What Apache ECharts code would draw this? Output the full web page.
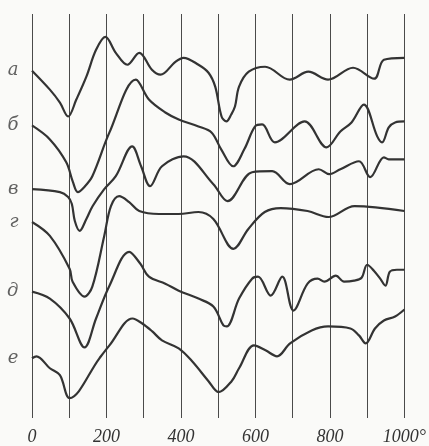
<!DOCTYPE html>
<html><head><meta charset="utf-8">
<script src="https://cdn.jsdelivr.net/npm/echarts@6/dist/echarts.min.js"></script>
<style>html,body{margin:0;padding:0;background:#fafaf8;}#c{width:429px;height:446px;}</style>
</head><body><div id="c"></div>
<script>
// Temperature (°C) and curve deflection (arbitrary units, up = higher)
const curveNames = ['а', 'б', 'в', 'г', 'д', 'е'];
const xTickLabels = ['0', '200', '400', '600', '800', '1000°'];

const curveA = [[0,349],[48,330],[75,317],[97,303],[119,320],[146,343],[172,370],[197,383],[225,367],[256,355],[288,367],[322,350],[345,345],[385,358],[407,362],[447,355],[474,347],[492,333],[509,303],[522,298],[535,305],[545,313],[556,333],[582,348],[626,353],[692,340],[742,348],[795,340],[862,352],[919,341],[945,360],[1000,362]];
const curveB = [[0,294],[48,280],[92,257],[110,237],[123,227],[140,232],[162,243],[208,287],[279,340],[314,320],[358,307],[394,300],[447,293],[482,287],[508,270],[540,253],[570,270],[599,293],[618,295],[652,277],[732,298],[791,272],[828,288],[858,297],[891,315],[927,283],[940,277],[958,292],[975,297],[1000,298]];
const curveV = [[0,230],[75,227],[97,222],[107,215],[115,198],[128,188],[146,200],[163,213],[194,230],[225,243],[269,273],[293,253],[317,233],[349,253],[407,263],[487,235],[525,218],[591,247],[645,248],[692,235],[770,250],[798,245],[828,250],[878,258],[908,242],[945,262],[958,260],[1000,260]];
const curveG = [[0,197],[48,183],[101,150],[109,137],[141,122],[162,132],[194,183],[212,213],[234,223],[261,217],[288,208],[341,205],[394,205],[447,207],[487,200],[541,170],[581,190],[625,207],[668,211],[740,208],[796,202],[866,213],[1000,208]];
const curveD = [[0,127],[48,120],[101,100],[141,71],[172,100],[208,133],[261,167],[291,155],[314,142],[358,135],[394,128],[447,120],[487,112],[514,93],[523,92],[556,120],[591,140],[607,142],[641,123],[672,142],[702,108],[740,135],[767,140],[785,137],[816,143],[838,137],[865,138],[885,141],[900,154],[918,148],[935,140],[949,133],[961,147],[980,149],[1000,149]];
const curveE = [[0,60],[12,62],[48,50],[75,43],[101,20],[181,60],[208,73],[270,100],[296,95],[323,87],[349,78],[394,70],[430,57],[474,37],[501,26],[536,37],[556,50],[596,73],[627,68],[658,62],[693,75],[751,88],[795,92],[855,90],[878,83],[896,75],[921,90],[945,98],[975,102],[1000,109]];

const curves = [curveA, curveB, curveV, curveG, curveD, curveE];
const ink = '#333333';

const series = curves.map((d, i) => ({
  type: 'line', name: curveNames[i], data: d, smooth: 0.35, symbol: 'none',
  lineStyle: { color: ink, width: 2.2 }, silent: true, z: 3
}));
series.push({
  type: 'scatter', symbolSize: 1, itemStyle: { color: 'transparent' }, silent: true,
  data: curves.map((d, i) => ({ value: [d[0][0], d[0][1]], name: curveNames[i] })),
  label: { show: true, position: 'left', distance: 13, formatter: p => p.name,
    fontFamily: 'DejaVu Serif', fontStyle: 'italic', fontSize: 18, color: '#3a3a3a' }
});

const chart = echarts.init(document.getElementById('c'), null, { renderer: 'canvas' });
chart.setOption({
  backgroundColor: '#fafaf8',
  animation: false,
  grid: { left: 32, right: 21.5, top: 14, bottom: 26 },
  xAxis: {
    type: 'value', min: 0, max: 1000, interval: 100,
    axisLine: { show: false }, axisTick: { show: false },
    splitLine: { show: true, lineStyle: { color: '#4a4a4a', width: 1 } },
    axisLabel: {
      margin: 10, fontFamily: 'Liberation Serif', fontStyle: 'italic', fontSize: 18, color: '#333',
      formatter: v => (v % 200 === 0 ? xTickLabels[v / 200] : '')
    }
  },
  yAxis: { type: 'value', min: 0, max: 406, show: false, splitLine: { show: false } },
  series: series
});
</script></body></html>
